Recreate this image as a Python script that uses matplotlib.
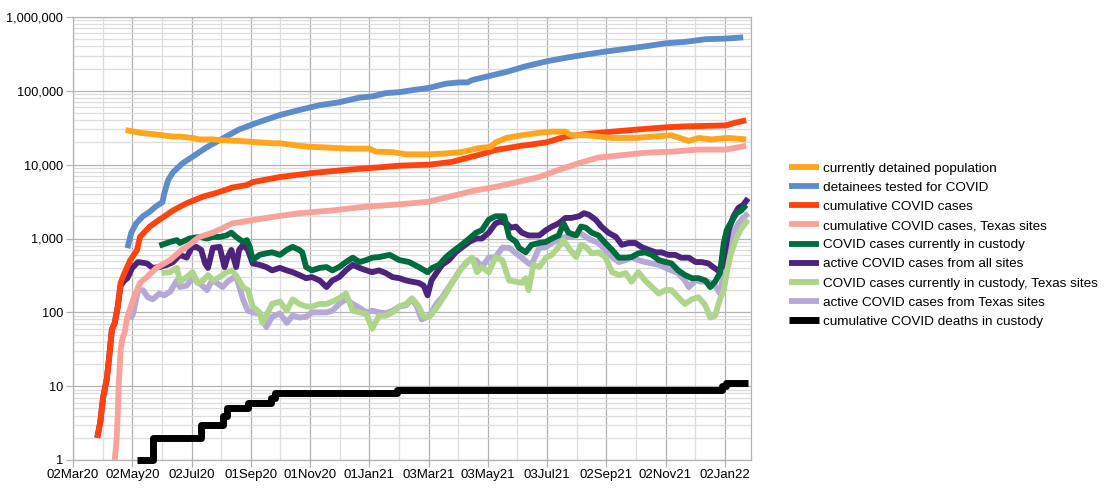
import matplotlib
matplotlib.use("Agg")
import matplotlib.pyplot as plt
import matplotlib.dates as mdates
import matplotlib.ticker as mticker
import numpy as np
import pandas as pd

plt.rcParams['font.family'] = ['Liberation Sans', 'DejaVu Sans']

START = pd.Timestamp('2020-03-02')

# ---- data: day offsets from 02Mar20 and values ----
detained_days = [54, 69, 85, 103, 110, 123, 130, 144, 151, 171, 192, 205, 213, 233, 243, 264, 284, 305, 312, 329,
                 343, 367, 384, 400, 418, 430, 435, 446, 462, 480, 493, 507, 513, 528, 541, 555, 579, 596, 616,
                 634, 644, 657, 675, 693]
detained_vals = [29500, 27000, 25700, 24000, 24000, 23000, 22000, 22000, 21500, 21000, 20000, 19500, 19500, 18000,
                 17500, 17000, 16500, 16500, 15000, 14800, 13800, 13800, 14200, 14800, 16800, 17400, 20000, 23000,
                 25000, 27000, 28000, 28000, 25000, 25000, 24000, 23000, 23000, 24000, 25000, 21000, 23000, 22000,
                 23000, 22000]

tested_days = [56, 60, 65, 72, 79, 85, 92, 94, 98, 103, 113, 123, 137, 151, 171, 192, 213, 233, 254, 274, 295, 308,
               322, 336, 349, 367, 384, 397, 406, 411, 425, 446, 466, 487, 507, 528, 548, 569, 589, 610, 630, 651,
               672, 690]
tested_vals = [740, 1200, 1600, 2000, 2300, 2700, 3100, 4100, 6200, 7900, 10500, 12800, 17000, 21500, 30000, 38000,
               47000, 55000, 64000, 70000, 81000, 84000, 93000, 96000, 102000, 110000, 125000, 130000, 130000,
               140000, 155000, 180000, 215000, 250000, 280000, 310000, 340000, 370000, 400000, 440000, 460000,
               500000, 510000, 530000]

cum_days = [25, 28, 31, 35, 38, 40, 43, 46, 49, 53, 59, 66, 69, 79, 89, 103, 117, 134, 148, 164, 179, 185, 213, 246,
            281, 315, 336, 367, 390, 418, 435, 459, 487, 507, 528, 548, 569, 589, 610, 630, 651, 672, 682, 693]
cum_vals = [2, 3.2, 7, 13, 31, 58, 72, 118, 250, 340, 510, 700, 1050, 1450, 1800, 2400, 3000, 3700, 4150, 4900,
            5300, 5800, 6800, 7700, 8500, 9200, 9700, 10000, 10900, 13600, 15800, 17800, 20000, 24000, 26000,
            27500, 29000, 30500, 32000, 33000, 33500, 34000, 37000, 40000]

cumtx_days = [43, 45, 46, 47, 49, 51, 53, 56, 62, 69, 76, 86, 100, 112, 117, 130, 144, 164, 199, 233, 267, 302, 336,
              366, 395, 415, 435, 452, 480, 500, 521, 541, 562, 589, 616, 644, 672, 693]
cumtx_vals = [1, 2, 4, 10, 31, 45, 52, 87, 150, 250, 300, 400, 510, 700, 770, 1050, 1200, 1600, 1900, 2200, 2400,
              2700, 2900, 3150, 3900, 4500, 5000, 5600, 6800, 8500, 10500, 12500, 13300, 14500, 15000, 16000,
              16000, 18000]

cust_days = [89, 100, 107, 110, 120, 130, 138, 144, 151, 158, 163, 168, 175, 179, 182, 185, 192, 199, 205, 213, 220,
             226, 233, 236, 240, 246, 254, 261, 267, 274, 281, 288, 295, 302, 308, 315, 326, 336, 346, 356, 365,
             370, 377, 384, 390, 400, 408, 415, 421, 428, 435, 444, 449, 456, 459, 466, 472, 480, 487, 493, 500,
             505, 510, 518, 523, 528, 534, 541, 548, 555, 562, 569, 575, 582, 589, 596, 603, 610, 616, 623, 630,
             637, 644, 651, 656, 661, 666, 670, 673, 678, 683, 688, 693]
cust_vals = [800, 900, 950, 870, 1000, 1050, 1000, 1050, 1050, 1100, 1200, 1050, 900, 950, 770, 510, 600, 630, 650,
             600, 700, 770, 700, 650, 410, 370, 400, 410, 370, 410, 480, 550, 480, 510, 550, 560, 600, 510, 480,
             410, 350, 400, 440, 560, 650, 820, 1000, 1200, 1300, 1800, 2000, 2000, 1050, 900, 750, 650, 820, 870,
             900, 1000, 1100, 1600, 1200, 1100, 1450, 1400, 1200, 1100, 870, 700, 550, 550, 560, 630, 650, 600,
             510, 480, 460, 370, 320, 290, 290, 270, 220, 260, 340, 870, 1300, 1700, 2200, 2400, 2850]

active_days = [25, 28, 31, 35, 38, 40, 43, 46, 49, 53, 56, 61, 67, 76, 82, 89, 97, 103, 110, 117, 122, 127, 132,
               136, 139, 144, 151, 156, 159, 163, 168, 171, 175, 180, 185, 192, 199, 205, 213, 220, 226, 233, 240,
               246, 254, 261, 267, 274, 281, 288, 295, 302, 308, 315, 322, 329, 336, 343, 349, 356, 361, 365, 369,
               374, 380, 387, 394, 400, 408, 415, 421, 428, 435, 440, 446, 451, 456, 462, 469, 472, 480, 487, 493,
               500, 507, 513, 521, 526, 531, 538, 544, 551, 559, 565, 572, 579, 585, 593, 600, 606, 613, 620, 626,
               634, 641, 647, 654, 659, 664, 668, 672, 675, 680, 685, 690, 695]
active_vals = [2, 3.2, 7, 13, 31, 58, 72, 118, 230, 270, 290, 400, 480, 460, 400, 410, 440, 480, 600, 550, 750, 770,
               700, 460, 400, 750, 770, 410, 550, 700, 410, 700, 820, 700, 460, 440, 410, 370, 400, 370, 350, 320,
               290, 300, 270, 220, 270, 300, 370, 440, 400, 370, 350, 370, 340, 300, 290, 270, 260, 250, 230, 170,
               270, 340, 440, 510, 650, 750, 900, 1000, 1000, 1200, 1600, 1700, 1600, 1400, 1450, 1200, 1100, 1100,
               1100, 1300, 1450, 1600, 1900, 1900, 2000, 2200, 2100, 1800, 1450, 1200, 1050, 820, 870, 870, 770,
               700, 650, 650, 600, 600, 550, 550, 480, 480, 460, 410, 370, 410, 770, 1300, 2000, 2600, 2850, 3500]

custtx_days = [91, 100, 107, 110, 117, 123, 128, 134, 139, 144, 151, 158, 164, 169, 175, 180, 185, 192, 195, 199,
               205, 213, 220, 226, 233, 240, 246, 254, 261, 267, 274, 281, 288, 295, 302, 308, 315, 322, 329, 336,
               343, 349, 356, 361, 367, 372, 377, 384, 390, 397, 405, 411, 416, 421, 428, 435, 442, 449, 456, 462,
               466, 469, 474, 480, 487, 493, 500, 505, 510, 518, 523, 528, 534, 541, 548, 555, 562, 569, 575, 582,
               589, 596, 603, 610, 616, 623, 630, 637, 644, 651, 656, 661, 666, 670, 673, 677, 682, 687, 692, 695]
custtx_vals = [340, 350, 400, 260, 300, 350, 250, 270, 320, 270, 300, 350, 370, 300, 220, 200, 120, 100, 72, 90,
               130, 140, 105, 150, 130, 120, 120, 130, 130, 140, 155, 180, 105, 100, 95, 60, 90, 90, 100, 120, 130,
               155, 120, 87, 87, 105, 130, 180, 250, 350, 480, 550, 350, 410, 350, 560, 510, 270, 260, 250, 290,
               200, 440, 410, 550, 600, 770, 950, 750, 560, 820, 770, 630, 650, 560, 350, 320, 340, 260, 350, 270,
               220, 180, 200, 200, 160, 130, 150, 160, 125, 85, 90, 150, 200, 340, 600, 950, 1300, 1600, 1800]

activetx_days = [59, 62, 67, 72, 77, 82, 89, 94, 100, 107, 110, 117, 123, 130, 138, 143, 148, 154, 159, 166, 169,
                 175, 180, 185, 192, 199, 205, 213, 220, 226, 233, 240, 246, 254, 261, 267, 274, 281, 288, 295, 302,
                 308, 315, 322, 329, 336, 343, 349, 354, 359, 367, 374, 380, 387, 394, 400, 408, 415, 421, 428, 435,
                 442, 449, 456, 462, 469, 472, 480, 487, 493, 500, 507, 513, 521, 528, 534, 541, 548, 555, 562, 569,
                 575, 582, 589, 596, 603, 610, 616, 623, 630, 634, 641, 647, 654, 661, 666, 670, 675, 680, 685, 690,
                 695]
activetx_vals = [80, 97, 200, 200, 160, 150, 180, 170, 190, 270, 220, 230, 290, 250, 200, 270, 250, 220, 260, 300,
                 280, 150, 105, 100, 97, 63, 87, 97, 72, 90, 85, 87, 100, 100, 100, 105, 130, 150, 130, 115, 100,
                 105, 100, 97, 105, 120, 125, 150, 120, 80, 90, 130, 160, 220, 300, 400, 510, 510, 410, 550, 560,
                 750, 750, 630, 550, 460, 440, 750, 770, 870, 950, 1050, 1050, 1200, 1050, 950, 870, 700, 560, 480,
                 510, 560, 510, 480, 460, 440, 400, 370, 340, 270, 220, 270, 260, 260, 230, 180, 340, 700, 1200,
                 1600, 1900, 2200]

deaths_days = [66, 82, 132, 154, 159, 180, 204, 208, 334, 668, 672, 695]
deaths_vals = [1, 2, 3, 4, 5, 6, 7, 8, 9, 10, 11, 11]

y_ticks = [1, 10, 100, 1000, 10000, 100000, 1000000]

series = [
    ("currently detained population", detained_days, detained_vals, '#FFA51E', False),
    ("detainees tested for COVID", tested_days, tested_vals, '#5E8CCB', False),
    ("cumulative COVID cases", cum_days, cum_vals, '#FF420E', False),
    ("cumulative COVID cases, Texas sites", cumtx_days, cumtx_vals, '#F9A29B', False),
    ("COVID cases currently in custody", cust_days, cust_vals, '#006B3E', False),
    ("active COVID cases from all sites", active_days, active_vals, '#4E237D', False),
    ("COVID cases currently in custody, Texas sites", custtx_days, custtx_vals, '#AED58B', False),
    ("active COVID cases from Texas sites", activetx_days, activetx_vals, '#B6A9D6', False),
    ("cumulative COVID deaths in custody", deaths_days, deaths_vals, '#000000', True),
]

def to_dates(days):
    return START + pd.to_timedelta(np.array(days, dtype=float), unit='D')

fig = plt.figure(figsize=(11.09, 4.91), dpi=100)
ax = fig.add_axes([73 / 1109, 31 / 491, 678 / 1109, 443 / 491])

n = len(series)
handles = []
for i, (label, d, v, c, step) in enumerate(series):
    kw = dict(color=c, label=label, zorder=3 + (n - i), solid_capstyle='butt', solid_joinstyle='round')
    if step:
        ln, = ax.plot(to_dates(d), v, drawstyle='steps-post', clip_on=False, lw=5.0, **kw)
    else:
        ln, = ax.plot(to_dates(d), v, lw=4.2, **kw)
    handles.append(ln)

ax.set_yscale('log')
ax.set_ylim(1, 1e6)
ax.set_xlim(mdates.date2num(START), mdates.date2num(START + pd.Timedelta(days=698)))

major_dates = [START + pd.Timedelta(days=61 * k) for k in range(12)]
minor_dates = [START + pd.Timedelta(days=61 * k + 30.5) for k in range(12)]
ax.xaxis.set_major_locator(mticker.FixedLocator(mdates.date2num(major_dates)))
ax.xaxis.set_minor_locator(mticker.FixedLocator(mdates.date2num(minor_dates)))
ax.xaxis.set_major_formatter(mdates.DateFormatter('%d%b%y'))
ax.xaxis.set_minor_formatter(mticker.NullFormatter())

minor_y = [m * 10 ** e for e in range(0, 6) for m in range(2, 10)]
ax.yaxis.set_major_locator(mticker.FixedLocator(y_ticks))
ax.yaxis.set_minor_locator(mticker.FixedLocator(minor_y))
ax.yaxis.set_major_formatter(mticker.FuncFormatter(lambda y, p: f"{int(round(y)):,}"))
ax.yaxis.set_minor_formatter(mticker.NullFormatter())

ax.grid(which='major', color='#B3B3B3', lw=0.9, zorder=0)
ax.grid(which='minor', color='#DDDDDD', lw=0.9, zorder=0)
ax.set_axisbelow(True)

for s in ax.spines.values():
    s.set_color('#B3B3B3')
    s.set_linewidth(0.9)

ax.tick_params(axis='y', which='major', labelsize=9.2, length=5, color='#B3B3B3', width=0.9,
               labelcolor='black', pad=2)
ax.tick_params(axis='x', which='major', labelsize=9.5, length=5, color='#B3B3B3', width=0.9,
               labelcolor='black', pad=1.5)
ax.tick_params(axis='both', which='minor', length=0)

leg = fig.legend(handles=handles, loc='center left', bbox_to_anchor=(789 / 1109, 1 - 245 / 491),
                 frameon=False, fontsize=9.7, handlelength=2.2, handletextpad=0.3, labelspacing=0.5,
                 borderpad=0, borderaxespad=0)

fig.savefig('out.png', dpi=100)
